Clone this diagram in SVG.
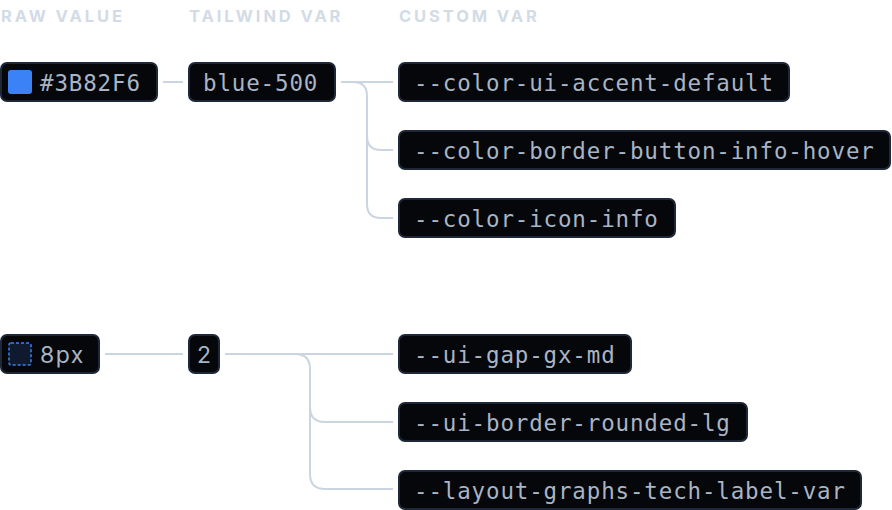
<svg xmlns="http://www.w3.org/2000/svg" width="892" height="510" viewBox="0 0 892 510">
<style>
.hdr{font-family:Inter,"Liberation Sans",sans-serif;font-weight:700;font-size:16.5px;fill:#d2dbe6;letter-spacing:2.9px}
.box{fill:#05070b;stroke:#1f2838;stroke-width:2}
.mono{font-family:"DejaVu Sans Mono","Liberation Mono",monospace;font-size:22.5px;fill:#a9b4c4;letter-spacing:0.85px}
.sans{font-family:Inter,"Liberation Sans",sans-serif;font-size:23px;fill:#a9b4c4;letter-spacing:1.5px}
.conn{fill:none;stroke:#cbd5e1;stroke-width:2}
</style>
<rect width="892" height="510" fill="#ffffff"/>
<g id="headers">
<text class="hdr" x="1" y="22">RAW VALUE</text>
<text class="hdr" x="189" y="22">TAILWIND VAR</text>
<text class="hdr" x="399" y="22">CUSTOM VAR</text>
</g>
<g id="connectors">
<path class="conn" d="M163,82 H183"/>
<path class="conn" d="M341,82 H393"/>
<path class="conn" d="M353,82 Q367,82 367,96 V136 Q367,150 381,150 H393"/>
<path class="conn" d="M367,136 V204 Q367,218 381,218 H393"/>
<path class="conn" d="M105,354 H183"/>
<path class="conn" d="M225,354 H393"/>
<path class="conn" d="M295,354 Q310,354 310,369 V407 Q310,422 325,422 H393"/>
<path class="conn" d="M310,407 V474 Q310,489 325,489 H393"/>
</g>
<g id="raw-blue">
<rect class="box" x="1" y="63" width="156" height="38" rx="6"/>
<rect x="8" y="70" width="24" height="24" rx="3" fill="#3B82F6"/>
<text class="mono" x="40" y="90.5">#3B82F6</text>
</g>
<g id="tw-blue-500">
<rect class="box" x="189" y="63" width="146" height="38" rx="6"/>
<text class="mono" x="203" y="90.5">blue-500</text>
</g>
<g id="cv-accent">
<rect class="box" x="399" y="63" width="390" height="38" rx="6"/>
<text class="mono" x="414" y="90.5">--color-ui-accent-default</text>
</g>
<g id="cv-border-button">
<rect class="box" x="399" y="131" width="491" height="38" rx="6"/>
<text class="mono" x="414" y="158.5">--color-border-button-info-hover</text>
</g>
<g id="cv-icon">
<rect class="box" x="399" y="199" width="276" height="38" rx="6"/>
<text class="mono" x="414" y="226.5">--color-icon-info</text>
</g>
<g id="raw-8px">
<rect class="box" x="1" y="335" width="98" height="38" rx="6"/>
<rect x="9" y="343" width="22" height="22" rx="2" fill="#0f1a2e" stroke="#3B82F6" stroke-width="1.5" stroke-dasharray="3 2"/>
<text class="sans" x="40" y="362.5">8px</text>
</g>
<g id="tw-2">
<rect class="box" x="189" y="335" width="30" height="38" rx="6"/>
<text class="sans" x="204" y="362.5" text-anchor="middle" style="letter-spacing:0">2</text>
</g>
<g id="cv-gap">
<rect class="box" x="399" y="335" width="232" height="38" rx="6"/>
<text class="mono" x="414" y="362.5">--ui-gap-gx-md</text>
</g>
<g id="cv-rounded">
<rect class="box" x="399" y="403" width="348" height="38" rx="6"/>
<text class="mono" x="414" y="430.5">--ui-border-rounded-lg</text>
</g>
<g id="cv-layout">
<rect class="box" x="399" y="471" width="462" height="38" rx="6"/>
<text class="mono" x="414" y="498.5">--layout-graphs-tech-label-var</text>
</g>
</svg>
